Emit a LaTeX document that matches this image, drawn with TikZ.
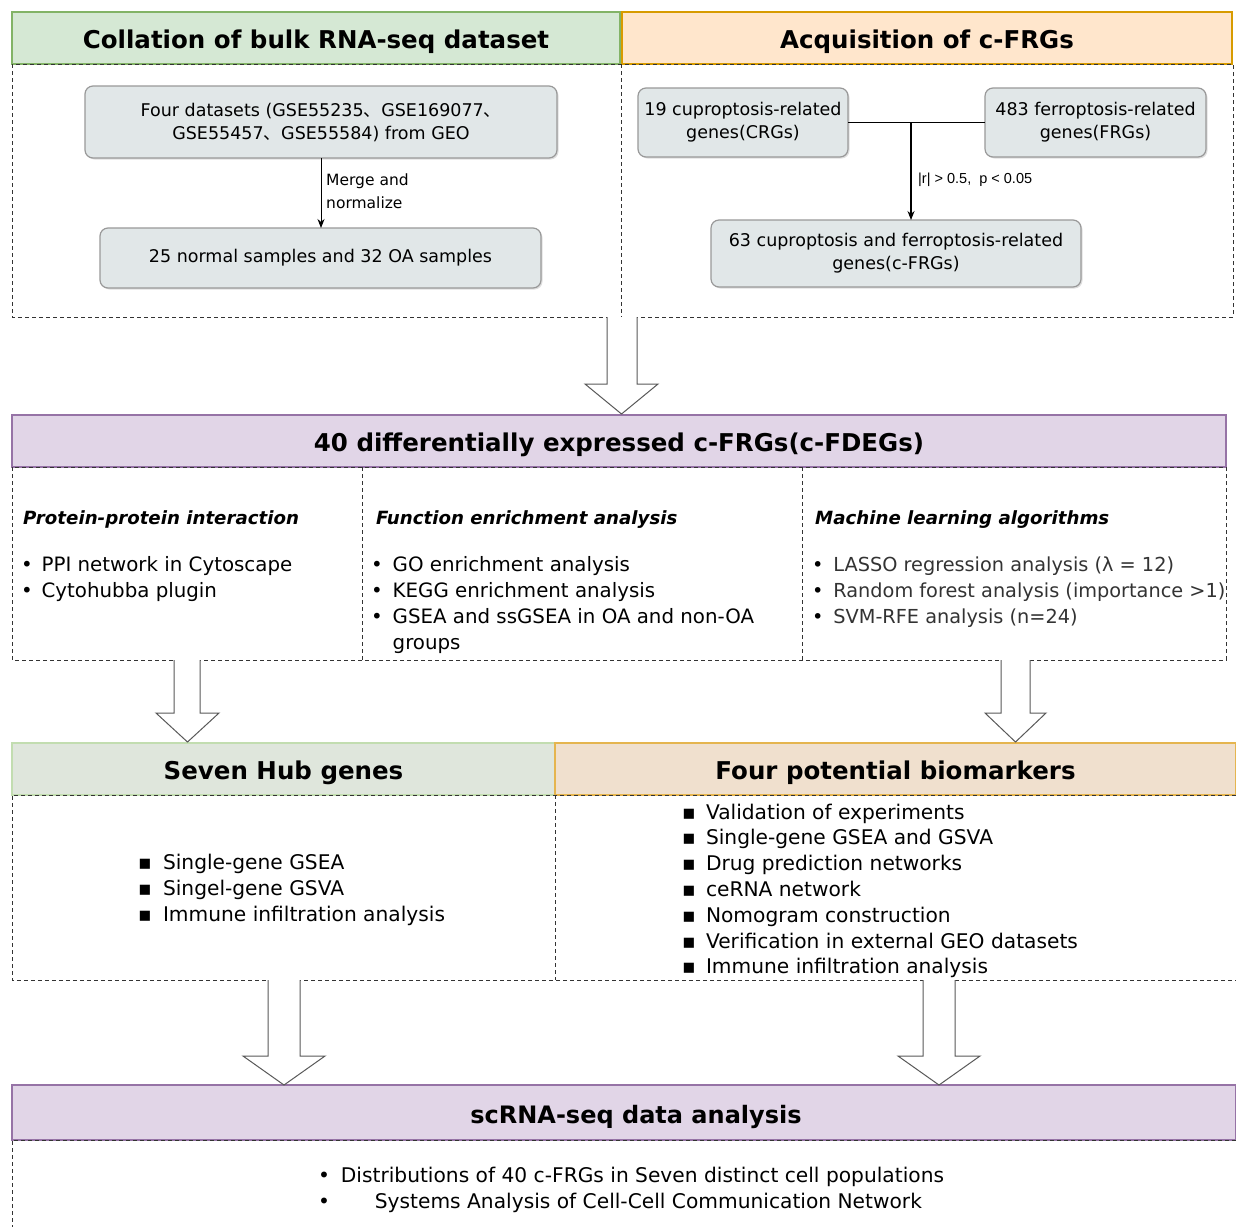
\documentclass[tikz,border=0pt]{standalone}
\usepackage{fontspec}
\setmainfont{DejaVu Sans}
\newfontfamily\cjk{Noto Sans CJK SC}
\newfontfamily\arialf{Liberation Sans}
\usetikzlibrary{arrows.meta,shadows}
\definecolor{gfill}{HTML}{D5E8D4}
\definecolor{gline}{HTML}{82B366}
\definecolor{ofill}{HTML}{FFE6CC}
\definecolor{oline}{HTML}{D79B00}
\definecolor{pfill}{HTML}{E1D5E7}
\definecolor{pline}{HTML}{9673A6}
\definecolor{gtwofill}{HTML}{DFE6DC}
\definecolor{gtwoline}{HTML}{C2DDB0}
\definecolor{otwofill}{HTML}{F0E0CE}
\definecolor{otwoline}{HTML}{E5B54F}
\definecolor{boxfill}{HTML}{E1E7E8}
\definecolor{greytext}{HTML}{333333}
\tikzset{
  hdr/.style={inner sep=0pt,outer sep=0pt,line width=1.5pt,text height=21pt,text depth=1pt,font=\fontsize{24.5}{28}\selectfont\bfseries},
  body/.style={draw=black!80,dash pattern=on 4pt off 3pt,line width=1pt},
  gbox/.style={draw=black!40,fill=boxfill,rounded corners=8pt,line width=1.2pt,inner sep=0pt,outer sep=0pt,align=center,font=\fontsize{17.5}{23}\selectfont,drop shadow={shadow xshift=1.5pt,shadow yshift=-1.5pt,opacity=0.25}},
  thinarrow/.style={-{Stealth[length=9pt,width=7pt]},line width=1pt},
  bigarrow/.style={draw=black!65,fill=white,line width=1pt,line join=miter},
  lst/.style={anchor=base west,inner sep=0pt,outer sep=0pt,font=\fontsize{19.8}{26}\selectfont},
  subhead/.style={anchor=base west,inner sep=0pt,font=\fontsize{18.2}{22}\selectfont\bfseries\itshape},
}
\begin{document}
\begin{tikzpicture}[x=1pt,y=-1pt]
\useasboundingbox (0,0) rectangle (1236,1227);
\fill[white] (0,0) rectangle (1236,1227);

% ---------- Section 1 ----------
\node[hdr,draw=gline,fill=gfill,minimum width=608pt,minimum height=52pt] (h1) at (316,38) {Collation of bulk RNA-seq dataset};
\node[hdr,draw=oline,fill=ofill,minimum width=610pt,minimum height=52pt] (h2) at (927,38) {Acquisition of c-FRGs};
\draw[body] (12,64) rectangle (1233,317);
\draw[body] (621,64) -- (621,317);

\node[gbox,minimum width=472pt,minimum height=72pt] (b1) at (321,122) {Four datasets (GSE55235{\cjk 、}GSE169077{\cjk 、}\\GSE55457{\cjk 、}GSE55584) from GEO};
\node[gbox,minimum width=441pt,minimum height=60pt] (b2) at (320.5,258) {25 normal samples and 32 OA samples};
\draw[thinarrow] (b1.south) -- (b1.south |- b2.north);
\node[anchor=west,align=left,inner sep=0pt,font=\fontsize{15.5}{23}\selectfont] (mlab) at (326,191.5) {Merge and\\normalize};

\node[gbox,minimum width=210pt,minimum height=69pt] (crg) at (743,122.5) {19 cuproptosis-related\\genes(CRGs)};
\node[gbox,minimum width=221pt,minimum height=69pt] (frg) at (1095.5,122.5) {483 ferroptosis-related\\genes(FRGs)};
\node[gbox,minimum width=370pt,minimum height=67pt] (cfrg) at (896,253.5) {63 cuproptosis and ferroptosis-related\\genes(c-FRGs)};
\coordinate (jn) at (911,122.5);
\draw[line width=1.8pt] (crg.east) -- (frg.west);
\draw[thinarrow,line width=1.3pt] (jn) -- (jn |- cfrg.north);
\node[anchor=west,inner sep=0pt,font=\arialf\fontsize{14.5}{17}\selectfont] (rlab) at (918,180) {|r| > 0.5,\ \ p < 0.05};

% ---------- Section 2 ----------
\node[hdr,draw=pline,fill=pfill,minimum width=1214pt,minimum height=52pt] (h3) at (619,441) {40 differentially expressed c-FRGs(c-FDEGs)};
\draw[body] (12,467) rectangle (1226,660);
\draw[body] (362,467) -- (362,660);
\draw[body] (802,467) -- (802,660);

\node[subhead] (s1) at (23,524) {Protein-protein interaction};
\node[subhead] (s2) at (376,524) {Function enrichment analysis};
\node[subhead] (s3) at (815,524) {Machine learning algorithms};

\node[lst] (l1) at (21,571) {\begin{tabular}[t]{@{}l@{\hspace{9pt}}l@{}}•&PPI network in Cytoscape\\•&Cytohubba plugin\end{tabular}};
\node[lst] (l2) at (371,571) {\begin{tabular}[t]{@{}l@{\hspace{10pt}}l@{}}•&GO enrichment analysis\\•&KEGG enrichment analysis\\•&GSEA and ssGSEA in OA and non-OA\\&groups\end{tabular}};
\node[lst,text=greytext,font=\fontsize{19.3}{26}\selectfont] (l3) at (812,571) {\begin{tabular}[t]{@{}l@{\hspace{10pt}}l@{}}\textcolor{black}{•}&LASSO regression analysis (λ = 12)\\\textcolor{black}{•}&Random forest analysis (importance >1)\\\textcolor{black}{•}&SVM-RFE analysis (n=24)\end{tabular}};

% ---------- Section 3 ----------
\node[hdr,draw=gtwoline,fill=gtwofill,minimum width=543pt,minimum height=52pt] (h4) at (283.5,769) {Seven Hub genes};
\node[hdr,draw=otwoline,fill=otwofill,minimum width=681pt,minimum height=52pt] (h5) at (895.5,769) {Four potential biomarkers};
\draw[body] (1236,795) -- (12,795) -- (12,980) -- (1236,980);
\draw[body] (555,795) -- (555,980);

\node[lst,font=\fontsize{20.2}{26}\selectfont] (l4) at (138,869) {\begin{tabular}[t]{@{}l@{\hspace{11pt}}l@{}}\makebox[14pt]{▪}&Single-gene GSEA\\\makebox[14pt]{▪}&Singel-gene GSVA\\\makebox[14pt]{▪}&Immune infiltration analysis\end{tabular}};
\node[lst,font=\fontsize{20.2}{25.8}\selectfont] (l5) at (682,819) {\begin{tabular}[t]{@{}l@{\hspace{10pt}}l@{}}\makebox[14pt]{▪}&Validation of experiments\\\makebox[14pt]{▪}&Single-gene GSEA and GSVA\\\makebox[14pt]{▪}&Drug prediction networks\\\makebox[14pt]{▪}&ceRNA network\\\makebox[14pt]{▪}&Nomogram construction\\\makebox[14pt]{▪}&Verification in external GEO datasets\\\makebox[14pt]{▪}&Immune infiltration analysis\end{tabular}};

% ---------- Section 4 ----------
\node[hdr,draw=pline,fill=pfill,minimum width=1224pt,minimum height=55pt] (h6) at (624,1112.5) {};
\node[inner sep=0pt,text height=21pt,text depth=1pt,font=\fontsize{24}{28}\selectfont\bfseries] (t6) at (636,1113) {scRNA-seq data analysis};
\draw[body] (1236,1140) -- (12,1140) -- (12,1227);
\node[lst,font=\fontsize{20.2}{26}\selectfont] (l6) at (318,1182) {\begin{tabular}[t]{@{}l@{\hspace{11pt}}l@{}}•&Distributions of 40 c-FRGs in Seven distinct cell populations\\•&\hspace{34pt}Systems Analysis of Cell-Cell Communication Network\end{tabular}};

% ---------- Block arrows ----------
\draw[bigarrow] (607,317) -- (607,384) -- (585,384) -- (621.5,414) -- (658,384) -- (637,384) -- (637,317);
\draw[bigarrow] (174,660) -- (174,713) -- (156,713) -- (187.5,742) -- (219,713) -- (200,713) -- (200,660);
\draw[bigarrow] (1001,660) -- (1001,713) -- (985,713) -- (1015.5,742) -- (1046,713) -- (1030,713) -- (1030,660);
\draw[bigarrow] (268,980) -- (268,1056) -- (243,1056) -- (284,1085) -- (325,1056) -- (300,1056) -- (300,980);
\draw[bigarrow] (923,980) -- (923,1056) -- (898,1056) -- (939,1085) -- (980,1056) -- (955,1056) -- (955,980);
\end{tikzpicture}
\end{document}
